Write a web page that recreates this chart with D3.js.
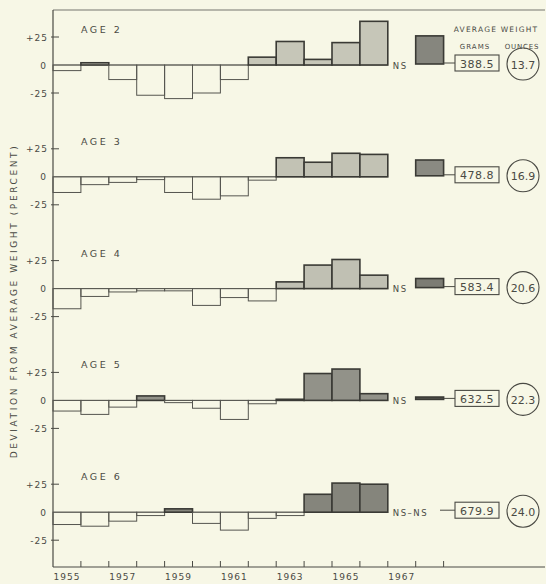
<!DOCTYPE html>
<html>
<head>
<meta charset="utf-8">
<script src="https://cdn.jsdelivr.net/npm/d3@7"></script>
<style>
  html, body { margin: 0; padding: 0; background: #f7f7e6; }
  svg { display: block; }
  text { font-family: "DejaVu Sans", sans-serif; fill: #4a4a44; }
</style>
</head>
<body>
<div id="chart"></div>
<script>
// years with a bar in each panel; 1967 is an empty slot
const years = [1955, 1956, 1957, 1958, 1959, 1960, 1961, 1962, 1963, 1964, 1965, 1966]
const yearLabels = [1955, 1957, 1959, 1961, 1963, 1965, 1967]
const ages = ["AGE 2", "AGE 3", "AGE 4", "AGE 5", "AGE 6"]

// deviation from average weight (percent), 1955-1966
const age2 = [-5, 2, -13, -27, -30, -25, -13, 7, 21, 5, 20, 39]
const age3 = [-14, -7, -5, -2.5, -14, -20, -17, -3, 17, 13, 21, 20]
const age4 = [-18, -7, -3, -2, -2, -15, -8, -11, 6, 21, 26, 12]
const age5 = [-9.5, -12.5, -6, 4, -2, -7, -17, -3, 1, 24, 28, 6]
const age6 = [-11, -12.5, -8, -3, 3, -10, -16, -5.5, -3, 16, 26, 25]
// 1968 values (null = not sampled)
const value1968 = [26, 15, 9, 3, null]
const nsLabels = ["NS", "", "NS", "NS", "NS\u2013NS"]

const grams = ["388.5", "478.8", "583.4", "632.5", "679.9"]
const ounces = ["13.7", "16.9", "20.6", "22.3", "24.0"]
const yTicks = [25, 0, -25]

const series = [age2, age3, age4, age5, age6]

const width = 546, height = 584
const svg = d3.select("#chart").append("svg").attr("width", width).attr("height", height)

// 背景
svg.append("rect").attr("width", width).attr("height", height).attr("fill", "#f7f7e6")

const mLeft = 53, mTop = 10, mBottom = 567, mRight = 545
const x = d3.scaleLinear().domain([1955, 1969]).range([mLeft, mLeft + 14 * 27.9])

// 面板填充色
const posFill = ["#c6c6b8", "#c2c2b4", "#c0c0b3", "#929289", "#85857c"]
const fill1968 = ["#86867e", "#8a8a82", "#7c7c74", "#55554f", null]

// 外框
svg.append("line").attr("x1", mLeft).attr("x2", mRight).attr("y1", mTop).attr("y2", mTop)
  .attr("stroke", "#77776f").attr("stroke-width", 1.2)
svg.append("line").attr("x1", mLeft).attr("x2", mLeft).attr("y1", mTop).attr("y2", mBottom)
  .attr("stroke", "#4a4a44").attr("stroke-width", 1.2)

// 底部年份轴
const xAxis = svg.append("g").attr("transform", `translate(0,${mBottom})`)
xAxis.append("line").attr("x1", mLeft).attr("x2", mRight).attr("stroke", "#4a4a44").attr("stroke-width", 1.2)
xAxis.selectAll("line.tick")
  .data(d3.range(1956, 1970))
  .enter()
  .append("line")
  .attr("class", "tick")
  .attr("x1", d => x(d)).attr("x2", d => x(d))
  .attr("y1", 0).attr("y2", -6)
  .attr("stroke", "#4a4a44")
xAxis.selectAll("text")
  .data(yearLabels)
  .enter()
  .append("text")
  .attr("x", d => x(d + 0.5))
  .attr("y", 13)
  .attr("text-anchor", "middle")
  .attr("font-size", 9)
  .attr("letter-spacing", 1)
  .text(d => d)

// y 轴标题
svg.append("text")
  .attr("transform", "translate(17,301) rotate(-90)")
  .attr("text-anchor", "middle")
  .attr("font-size", 9)
  .attr("letter-spacing", 2.6)
  .text("DEVIATION FROM AVERAGE WEIGHT (PERCENT)")

// 右侧标题
svg.append("text").attr("x", 496).attr("y", 32).attr("text-anchor", "middle")
  .attr("font-size", 7.5).attr("letter-spacing", 1.2).text("AVERAGE WEIGHT")
svg.append("text").attr("x", 475).attr("y", 49).attr("text-anchor", "middle")
  .attr("font-size", 7).attr("letter-spacing", 1).text("GRAMS")
svg.append("text").attr("x", 522).attr("y", 49).attr("text-anchor", "middle")
  .attr("font-size", 7).attr("letter-spacing", 0.8).text("OUNCES")

series.forEach((vals, i) => {
  const zero = 65 + i * 111.8
  const y = d3.scaleLinear().domain([-25, 25]).range([zero + 28, zero - 28])
  const g = svg.append("g")

  g.append("text").attr("x", 81).attr("y", zero - 32)
    .attr("font-size", 9.5).attr("letter-spacing", 2.5).text(ages[i])

  // y 刻度
  yTicks.forEach(t => {
    g.append("text").attr("x", t === 0 ? 47 : 48).attr("y", y(t) + 3.5)
      .attr("text-anchor", "end").attr("font-size", 9).attr("letter-spacing", 1)
      .text(t > 0 ? "+" + t : t < 0 ? "-" + Math.abs(t) : "0")
    if (t !== 0) {
      g.append("line").attr("x1", mLeft - 2).attr("x2", mLeft + 6)
        .attr("y1", y(t)).attr("y2", y(t)).attr("stroke", "#4a4a44")
    }
  })

  // 零线
  g.append("line").attr("x1", mLeft).attr("x2", x(1967)).attr("y1", y(0)).attr("y2", y(0))
    .attr("stroke", "#6a6a62").attr("stroke-width", 0.8)

  const data = years.map((yr, j) => ({year: yr, v: vals[j]}))

  g.selectAll("rect.bar")
    .data(data)
    .enter()
    .append("rect")
    .attr("class", "bar")
    .attr("x", d => x(d.year))
    .attr("width", d => x(d.year + 1) - x(d.year))
    .attr("y", d => y(Math.max(0, d.v)))
    .attr("height", d => Math.abs(y(d.v) - y(0)))
    .attr("fill", d => d.v > 0 ? posFill[i] : "none")
    .attr("stroke", d => d.v > 0 ? "#3a3a35" : "#55554f")
    .attr("stroke-width", d => d.v > 0 ? 1.6 : 1)

  // NS 标注
  if (nsLabels[i]) {
    g.append("text").attr("x", x(1967) + 5).attr("y", y(0) + 3.5)
      .attr("font-size", 8.5).attr("letter-spacing", 1.5).text(nsLabels[i])
  }

  const midY = zero - 2
  // 1968 柱
  if (value1968[i] !== null) {
    const v = value1968[i]
    g.append("rect")
      .attr("x", x(1968)).attr("width", x(1969) - x(1968))
      .attr("y", y(v)).attr("height", y(0) - y(v) - 1)
      .attr("fill", fill1968[i]).attr("stroke", "#3a3a35").attr("stroke-width", 1.6)
  }
  g.append("line").attr("x1", i === 4 ? 440 : x(1969)).attr("x2", 455)
    .attr("y1", midY).attr("y2", midY).attr("stroke", "#4a4a44")

  // 克 方框
  g.append("rect").attr("x", 455).attr("y", midY - 8).attr("width", 44).attr("height", 16)
    .attr("fill", "none").attr("stroke", "#4a4a44").attr("stroke-width", 1.1)
  g.append("text").attr("x", 477).attr("y", midY + 4.5).attr("text-anchor", "middle")
    .attr("font-size", 11).attr("letter-spacing", 0.5).text(grams[i])

  // 盎司 圆圈
  g.append("circle").attr("cx", 523).attr("cy", midY + 1).attr("r", 16)
    .attr("fill", "none").attr("stroke", "#4a4a44").attr("stroke-width", 1.1)
  g.append("text").attr("x", 523).attr("y", midY + 5.5).attr("text-anchor", "middle")
    .attr("font-size", 11).text(ounces[i])
})
</script>
</body>
</html>
